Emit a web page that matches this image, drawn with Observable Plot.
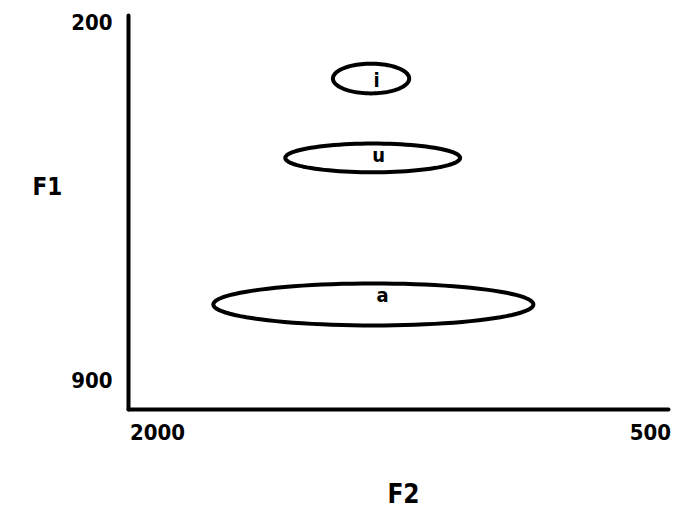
<!DOCTYPE html>
<html>
<head>
<meta charset="utf-8">
<script src="https://cdn.jsdelivr.net/npm/d3@7"></script>
<script src="https://cdn.jsdelivr.net/npm/@observablehq/plot@0.6"></script>
<style>
  html, body { margin: 0; padding: 0; background: #fff; }
</style>
</head>
<body>
<div id="chart"></div>
<script>
// Vowel space: F1 (Hz) against F2 (Hz), both axes reversed
const vowels   = ["i", "u", "a"];
const f2Center = [1350, 1345, 1343];
const f1Center = [309, 464, 750];
const f2Spread = [116, 266, 487];
const f1Spread = [29, 28, 41];
const labelF2  = [1333, 1327, 1315];
const labelF1  = [313, 459, 733];

const xTicks = [2000, 500];
const yTicks = [200, 900];

// Outline of each vowel region, traced from its centre and spreads
const steps = 96;
const outline = vowels.flatMap((v, k) =>
  d3.range(steps).map(j => {
    const t = (j / steps) * 2 * Math.PI;
    return {
      vowel: v,
      f2: f2Center[k] + f2Spread[k] * Math.cos(t),
      f1: f1Center[k] + f1Spread[k] * Math.sin(t)
    };
  })
);

const labels = vowels.map((v, k) => ({vowel: v, f2: labelF2[k], f1: labelF1[k]}));

const font = "'DejaVu Sans Condensed', 'DejaVu Sans', sans-serif";

const chart = Plot.plot({
  width: 676,
  height: 516,
  marginLeft: 128,
  marginRight: 8,
  marginTop: 15,
  marginBottom: 107,
  style: {fontFamily: font, background: "#fff", color: "#000"},
  x: {domain: [2088, 445]},
  y: {domain: [186, 955], reverse: true},
  marks: [
    Plot.line(outline, {
      x: "f2", y: "f1", z: "vowel",
      curve: "linear-closed",
      stroke: "#000", strokeWidth: 4
    }),
    Plot.text(labels, {
      x: "f2", y: "f1", text: "vowel",
      fontSize: 20, fontWeight: "bold", fill: "#000"
    }),
    Plot.frame({anchor: "left", stroke: "#000", strokeWidth: 4, strokeLinecap: "round"}),
    Plot.frame({anchor: "bottom", stroke: "#000", strokeWidth: 4, strokeLinecap: "round"}),
    Plot.axisY(yTicks, {
      anchor: "left", tickSize: 0, tickPadding: 16, label: null,
      tickFormat: d => String(d),
      fontSize: 22, fontWeight: "bold", fill: "#000"
    }),
    Plot.axisX(xTicks, {
      anchor: "bottom", tickSize: 0, tickPadding: 15, label: null,
      tickFormat: d => String(d),
      fontSize: 22, fontWeight: "bold", fill: "#000"
    }),
    Plot.text(["F1"], {
      frameAnchor: "left", dx: -96, dy: -25,
      fontSize: 24, fontWeight: "bold", fill: "#000"
    }),
    Plot.text(["F2"], {
      frameAnchor: "bottom", dx: 5, dy: 93,
      fontSize: 26, fontWeight: "bold", fill: "#000"
    })
  ]
});

document.getElementById("chart").appendChild(chart);
</script>
</body>
</html>
